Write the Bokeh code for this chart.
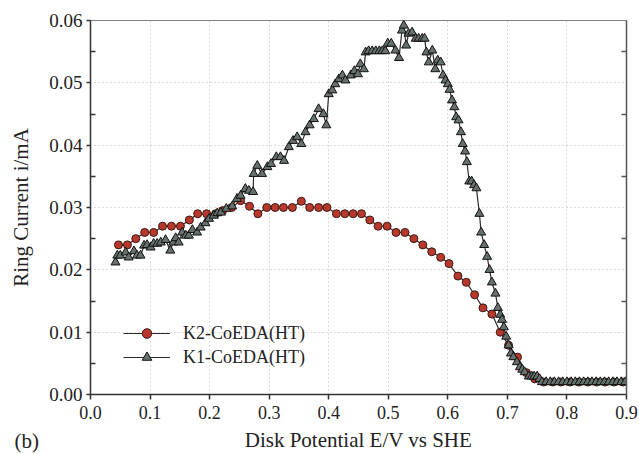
from bokeh.plotting import figure
from bokeh.models import (LinearAxis, Range1d, Title, Legend, LegendItem,
                          FixedTicker, NumeralTickFormatter)
from bokeh.embed import file_html
from bokeh.resources import INLINE

# ---------------- data ----------------
k2_x = [0.047, 0.062, 0.076, 0.091, 0.106, 0.121, 0.136, 0.151, 0.166, 0.180,
        0.195, 0.210, 0.222, 0.237, 0.252, 0.267, 0.281, 0.296, 0.310, 0.324,
        0.339, 0.354, 0.368, 0.383, 0.397, 0.413, 0.427, 0.441, 0.455, 0.469,
        0.483, 0.498, 0.513, 0.528, 0.543, 0.558, 0.573, 0.588, 0.602, 0.617,
        0.631, 0.645, 0.659, 0.674, 0.688, 0.702, 0.717, 0.732, 0.746, 0.761,
        0.776, 0.790, 0.805, 0.820, 0.835, 0.850, 0.864, 0.879, 0.894]
k2_y = [0.0240, 0.0240, 0.0250, 0.0260, 0.0260, 0.0270, 0.0270, 0.0270, 0.0280, 0.0290,
        0.0290, 0.0290, 0.0295, 0.0300, 0.0311, 0.0302, 0.0290, 0.0300, 0.0300, 0.0300,
        0.0300, 0.0310, 0.0300, 0.0300, 0.0300, 0.0290, 0.0290, 0.0290, 0.0290, 0.0280,
        0.0270, 0.0270, 0.0260, 0.0260, 0.0250, 0.0240, 0.0229, 0.0220, 0.0210, 0.0190,
        0.0180, 0.0160, 0.0139, 0.0129, 0.0100, 0.0079, 0.0060, 0.0035, 0.0025, 0.0020,
        0.0020, 0.0020, 0.0020, 0.0020, 0.0020, 0.0020, 0.0020, 0.0020, 0.0020]

k1_x = [0.042, 0.045, 0.050, 0.059, 0.064, 0.073, 0.078, 0.084, 0.090, 0.095,
        0.101, 0.106, 0.112, 0.118, 0.126, 0.134, 0.139, 0.143, 0.148, 0.154,
        0.160, 0.165, 0.171, 0.179, 0.185, 0.193, 0.199, 0.207, 0.213, 0.219,
        0.228, 0.238, 0.246, 0.252, 0.260, 0.266, 0.273, 0.274, 0.280, 0.288,
        0.297, 0.303, 0.312, 0.319, 0.325, 0.333, 0.340, 0.347, 0.354, 0.361,
        0.368, 0.375, 0.383, 0.391, 0.396, 0.400, 0.406, 0.411, 0.417, 0.423,
        0.428, 0.437, 0.443, 0.449, 0.453, 0.459, 0.462, 0.467, 0.473, 0.479,
        0.485, 0.490, 0.495, 0.499, 0.505, 0.512, 0.518, 0.523, 0.526, 0.530,
        0.534, 0.540, 0.546, 0.551, 0.557, 0.561, 0.564, 0.568, 0.574, 0.579,
        0.583, 0.588, 0.592, 0.596, 0.600, 0.603, 0.607, 0.611, 0.614, 0.618,
        0.622, 0.625, 0.629, 0.632, 0.636, 0.640, 0.644, 0.648, 0.653, 0.656,
        0.661, 0.666, 0.670, 0.674, 0.680, 0.684, 0.688, 0.691, 0.694, 0.698,
        0.702, 0.706, 0.710, 0.716, 0.721, 0.725, 0.729, 0.736, 0.741, 0.745,
        0.750, 0.754, 0.758, 0.765, 0.772, 0.779, 0.786, 0.793, 0.800, 0.807,
        0.814, 0.821, 0.828, 0.835, 0.842, 0.849, 0.856, 0.863, 0.870, 0.877,
        0.884, 0.891, 0.898]
k1_y = [0.0212, 0.0223, 0.0223, 0.0228, 0.0220, 0.0230, 0.0223, 0.0223, 0.0239, 0.0240,
        0.0236, 0.0242, 0.0242, 0.0244, 0.0248, 0.0231, 0.0244, 0.0251, 0.0244, 0.0260,
        0.0255, 0.0255, 0.0264, 0.0260, 0.0268, 0.0275, 0.0282, 0.0287, 0.0291, 0.0292,
        0.0298, 0.0302, 0.0314, 0.0319, 0.0330, 0.0327, 0.0325, 0.0354, 0.0367, 0.0354,
        0.0365, 0.0370, 0.0381, 0.0381, 0.0375, 0.0397, 0.0407, 0.0413, 0.0402, 0.0421,
        0.0432, 0.0442, 0.0458, 0.0450, 0.0432, 0.0482, 0.0488, 0.0498, 0.0506, 0.0512,
        0.0504, 0.0512, 0.0519, 0.0514, 0.0530, 0.0522, 0.0549, 0.0551, 0.0551, 0.0551,
        0.0551, 0.0551, 0.0551, 0.0563, 0.0563, 0.0552, 0.0540, 0.0584, 0.0592, 0.0560,
        0.0579, 0.0581, 0.0571, 0.0571, 0.0571, 0.0571, 0.0549, 0.0533, 0.0552, 0.0522,
        0.0536, 0.0533, 0.0512, 0.0504, 0.0498, 0.0489, 0.0472, 0.0461, 0.0445, 0.0440,
        0.0421, 0.0402, 0.0390, 0.0373, 0.0342, 0.0342, 0.0336, 0.0331, 0.0290, 0.0260,
        0.0240, 0.0221, 0.0200, 0.0180, 0.0162, 0.0139, 0.0128, 0.0120, 0.0108, 0.0093,
        0.0079, 0.0066, 0.0060, 0.0052, 0.0044, 0.0040, 0.0036, 0.0029, 0.0029, 0.0029,
        0.0029, 0.0025, 0.0020, 0.0020, 0.0020, 0.0020, 0.0020, 0.0020, 0.0020, 0.0020,
        0.0020, 0.0020, 0.0020, 0.0020, 0.0020, 0.0020, 0.0020, 0.0020, 0.0020, 0.0020,
        0.0020, 0.0020, 0.0020]

series_labels = ["K2-CoEDA(HT)", "K1-CoEDA(HT)"]
x_ticks = [0.0, 0.1, 0.2, 0.3, 0.4, 0.5, 0.6, 0.7, 0.8, 0.9]
y_ticks = [0.00, 0.01, 0.02, 0.03, 0.04, 0.05, 0.06]
y_minor_ticks = [0.005, 0.015, 0.025, 0.035, 0.045, 0.055]
x_title = "Disk Potential E/V vs SHE"
y_title = "Ring Current i/mA"
panel_tag = "(b)"

# ---------------- figure ----------------
SERIF = "Liberation Serif"
TXT = "#222222"
RED = "#b8382c"
GRAY = "#66716c"
LINE_C = "#2b2b2b"

p = figure(width=639, height=454, output_backend="svg", toolbar_location=None,
           x_range=Range1d(0.0, 0.9), y_range=Range1d(0.0, 0.06),
           min_border_left=90, min_border_right=13, min_border_top=20,
           min_border_bottom=60, background_fill_color="white",
           border_fill_color="white", outline_line_color="#808080",
           outline_line_width=1)

# grids
for g in (p.xgrid, p.ygrid):
    g.grid_line_color = "#b8b8b8"
    g.grid_line_dash = "1 3"
    g.grid_line_width = 1

# bottom axis
xa = p.xaxis[0]
xa.ticker = FixedTicker(ticks=x_ticks, minor_ticks=[])
xa.formatter = NumeralTickFormatter(format="0.0")
xa.major_tick_out = 5
xa.major_tick_in = 0
xa.minor_tick_out = 0
xa.minor_tick_in = 0
xa.major_label_standoff = 6
xa.major_label_text_font = SERIF
xa.major_label_text_font_size = "18px"
xa.major_label_text_color = TXT
xa.axis_line_color = "#333333"
xa.axis_line_width = 1.5
xa.major_tick_line_color = "#333333"
xa.major_tick_line_width = 1.5
xa.axis_label = x_title
xa.axis_label_text_font = SERIF
xa.axis_label_text_font_size = "21px"
xa.axis_label_text_font_style = "normal"
xa.axis_label_text_color = TXT
xa.axis_label_standoff = 6

# left axis
ya = p.yaxis[0]
ya.ticker = FixedTicker(ticks=y_ticks, minor_ticks=y_minor_ticks)
ya.formatter = NumeralTickFormatter(format="0.00")
ya.major_tick_out = 4
ya.major_tick_in = 0
ya.minor_tick_out = 0
ya.minor_tick_in = 5
ya.major_label_standoff = 4
ya.major_label_text_font = SERIF
ya.major_label_text_font_size = "19px"
ya.major_label_text_color = TXT
ya.axis_line_color = "#333333"
ya.axis_line_width = 1.5
ya.major_tick_line_color = "#333333"
ya.major_tick_line_width = 1.5
ya.minor_tick_line_color = "#333333"
ya.minor_tick_line_width = 1.5
ya.axis_label = y_title
ya.axis_label_text_font = SERIF
ya.axis_label_text_font_size = "21px"
ya.axis_label_text_font_style = "normal"
ya.axis_label_text_color = TXT
ya.axis_label_standoff = 13

# right axis: only inward minor ticks, no labels
ra = LinearAxis(ticker=FixedTicker(ticks=[], minor_ticks=y_minor_ticks),
                major_tick_in=0, major_tick_out=0, minor_tick_in=5, minor_tick_out=0,
                major_label_standoff=0,
                axis_line_color="#555555", axis_line_width=1.5,
                minor_tick_line_color="#555555", minor_tick_line_width=1.5)
p.add_layout(ra, "right")

# data
l2 = p.line(k2_x, k2_y, line_color=LINE_C, line_width=1.2)
s2 = p.scatter(k2_x, k2_y, marker="circle", size=8, fill_color=RED,
               line_color="#3a1a14", line_width=1)
l1 = p.line(k1_x, k1_y, line_color=LINE_C, line_width=1.2)
s1 = p.scatter(k1_x, k1_y, marker="triangle", size=9, fill_color=GRAY,
               line_color="#111111", line_width=1)

legend = Legend(items=[LegendItem(label=series_labels[0], renderers=[l2, s2]),
                       LegendItem(label=series_labels[1], renderers=[l1, s1])],
                location=(33, 25), orientation="vertical",
                glyph_width=47, glyph_height=24, label_standoff=13,
                spacing=0, padding=0, margin=0,
                border_line_color=None, background_fill_alpha=0,
                label_text_font=SERIF, label_text_font_size="18px",
                label_text_color=TXT, label_height=24)
p.add_layout(legend, "center")

# panel tag "(b)" drawn in the bottom side panel (not clipped to the frame)
tag = Title(text=panel_tag, align="left", vertical_align="top",
            offset=-76, standoff=-52, text_font=SERIF, text_font_size="21px",
            text_font_style="normal", text_color=TXT)
p.add_layout(tag, "below")

open("out.html", "w").write(file_html(p, INLINE))
